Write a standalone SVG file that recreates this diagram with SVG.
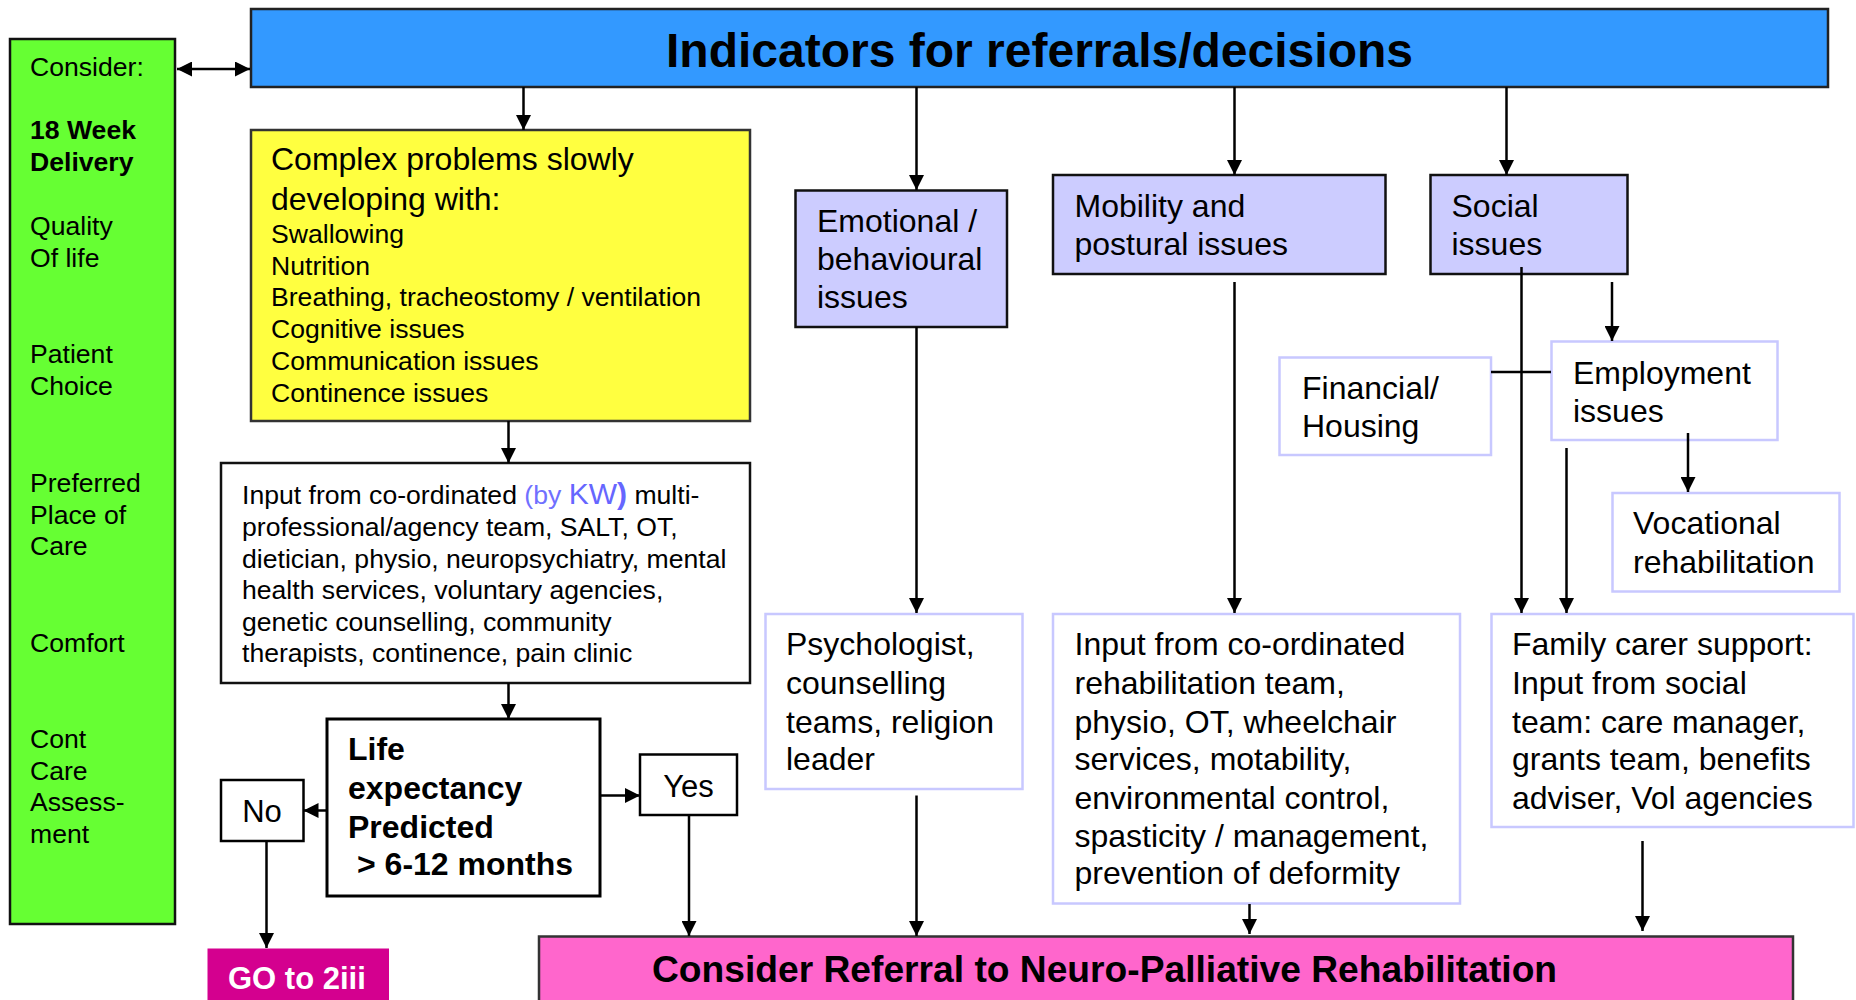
<svg xmlns="http://www.w3.org/2000/svg" width="1856" height="1000" viewBox="0 0 1856 1000">
<defs>
<marker id="ah" viewBox="0 0 10 10" refX="10" refY="5" markerWidth="15" markerHeight="15" markerUnits="userSpaceOnUse" orient="auto-start-reverse">
<path d="M0,0 L10,5 L0,10 z" fill="#000"/>
</marker>
<style>
text{font-family:"Liberation Sans",Arial,sans-serif;fill:#000}
.c{stroke:#000;stroke-width:2.5;fill:none}
.a{marker-end:url(#ah)}
.t26{font-size:26.6px}
.t31{font-size:31px}
.t32{font-size:32px}
.b{font-weight:bold}
.lav{fill:#ccccff;stroke:#111;stroke-width:2.5}
.wl{fill:#fff;stroke:#c8c8ff;stroke-width:2.5}
</style>
</defs>
<rect width="1856" height="1000" fill="#fff"/>

<g id="consider">
<rect x="10" y="39" width="165" height="885" fill="#66ff33" stroke="#111" stroke-width="2.5"/>
<text class="t26" x="30" y="76">Consider:</text>
<text class="t26 b" x="30" y="139">18 Week</text>
<text class="t26 b" x="30" y="171">Delivery</text>
<text class="t26" x="30" y="235">Quality</text>
<text class="t26" x="30" y="267">Of life</text>
<text class="t26" x="30" y="363">Patient</text>
<text class="t26" x="30" y="395">Choice</text>
<text class="t26" x="30" y="492">Preferred</text>
<text class="t26" x="30" y="524">Place of</text>
<text class="t26" x="30" y="555">Care</text>
<text class="t26" x="30" y="652">Comfort</text>
<text class="t26" x="30" y="748">Cont</text>
<text class="t26" x="30" y="780">Care</text>
<text class="t26" x="30" y="811">Assess-</text>
<text class="t26" x="30" y="843">ment</text>
</g>

<g id="indicators">
<rect x="251" y="9" width="1577" height="78" fill="#3399ff" stroke="#222" stroke-width="2.5"/>
<text x="1039.5" y="67" text-anchor="middle" class="b" font-size="48">Indicators for referrals/decisions</text>
</g>

<g id="complex">
<rect x="251" y="130" width="499" height="291" fill="#ffff40" stroke="#333" stroke-width="2.5"/>
<text x="271" y="170" font-size="32">Complex problems slowly</text>
<text x="271" y="210" font-size="32">developing with:</text>
<text class="t26" x="271" y="243">Swallowing</text>
<text class="t26" x="271" y="275">Nutrition</text>
<text class="t26" x="271" y="306">Breathing, tracheostomy / ventilation</text>
<text class="t26" x="271" y="338">Cognitive issues</text>
<text class="t26" x="271" y="370">Communication issues</text>
<text class="t26" x="271" y="402">Continence issues</text>
</g>

<g id="input-team">
<rect x="221" y="463" width="529" height="220" fill="#fff" stroke="#111" stroke-width="2.5"/>
<text class="t26" x="242" y="504">Input from co-ordinated <tspan fill="#7070ff">(by </tspan><tspan fill="#6666ff" font-size="30">KW</tspan><tspan fill="#6666ff" font-size="30" font-weight="bold">)</tspan> multi-</text>
<text class="t26" x="242" y="536">professional/agency team, SALT, OT,</text>
<text class="t26" x="242" y="567.5">dietician, physio, neuropsychiatry, mental</text>
<text class="t26" x="242" y="599">health services, voluntary agencies,</text>
<text class="t26" x="242" y="630.5">genetic counselling, community</text>
<text class="t26" x="242" y="662">therapists, continence, pain clinic</text>
</g>

<g id="life">
<rect x="327" y="719" width="273" height="177" fill="#fff" stroke="#000" stroke-width="3"/>
<text class="t32 b" x="348" y="760">Life</text>
<text class="t32 b" x="348" y="799">expectancy</text>
<text class="t32 b" x="348" y="837.5">Predicted</text>
<text class="t32 b" x="357" y="875">&gt; 6-12 months</text>
</g>

<g id="no">
<rect x="221" y="780" width="82.5" height="61" fill="#fff" stroke="#000" stroke-width="2.5"/>
<text class="t31" x="262" y="822" text-anchor="middle">No</text>
</g>

<g id="yes">
<rect x="640" y="754.5" width="97" height="60.5" fill="#fff" stroke="#000" stroke-width="2.5"/>
<text class="t31" x="688.5" y="797" text-anchor="middle">Yes</text>
</g>

<g id="goto">
<rect x="207.5" y="948.5" width="181.5" height="60" fill="#d4008f"/>
<text class="b" x="228" y="989" font-size="31" style="fill:#fff">GO to 2iii</text>
</g>

<g id="referral">
<rect x="539" y="936.5" width="1254" height="80" fill="#ff66cc" stroke="#333" stroke-width="2.5"/>
<text class="b" x="652" y="982" font-size="37.2">Consider Referral to Neuro-Palliative Rehabilitation</text>
</g>

<g id="emotional">
<rect x="795.5" y="190.5" width="211.5" height="136.5" class="lav"/>
<text class="t32" x="817" y="231.5">Emotional /</text>
<text class="t32" x="817" y="270">behavioural</text>
<text class="t32" x="817" y="308">issues</text>
</g>

<g id="mobility">
<rect x="1053" y="175" width="332.5" height="99" class="lav"/>
<text class="t32" x="1074.5" y="216.5">Mobility and</text>
<text class="t32" x="1074.5" y="255">postural issues</text>
</g>

<g id="social">
<rect x="1430.5" y="175" width="197" height="99" class="lav"/>
<text class="t32" x="1451.5" y="216.5">Social</text>
<text class="t32" x="1451.5" y="255">issues</text>
</g>

<g id="financial">
<rect x="1279.5" y="357.5" width="211.5" height="97.5" class="wl"/>
<text class="t32" x="1302" y="398.5">Financial/</text>
<text class="t32" x="1302" y="437">Housing</text>
</g>

<g id="employment">
<rect x="1551.5" y="341.5" width="226" height="98.5" class="wl"/>
<text class="t32" x="1573" y="383.5">Employment</text>
<text class="t32" x="1573" y="422">issues</text>
</g>

<g id="vocational">
<rect x="1612.5" y="493" width="227" height="98.5" class="wl"/>
<text class="t32" x="1633" y="534">Vocational</text>
<text class="t32" x="1633" y="573">rehabilitation</text>
</g>

<g id="psychologist">
<rect x="765.5" y="614" width="257" height="175" class="wl"/>
<text class="t32" x="786" y="655">Psychologist,</text>
<text class="t32" x="786" y="694">counselling</text>
<text class="t32" x="786" y="732.5">teams, religion</text>
<text class="t32" x="786" y="770">leader</text>
</g>

<g id="rehab-team">
<rect x="1053" y="614" width="407" height="289.5" class="wl"/>
<text class="t32" x="1074.5" y="655">Input from co-ordinated</text>
<text class="t32" x="1074.5" y="694">rehabilitation team,</text>
<text class="t32" x="1074.5" y="732.5">physio, OT, wheelchair</text>
<text class="t32" x="1074.5" y="770">services, motability,</text>
<text class="t32" x="1074.5" y="808.5">environmental control,</text>
<text class="t32" x="1074.5" y="846.5">spasticity / management,</text>
<text class="t32" x="1074.5" y="884">prevention of deformity</text>
</g>

<g id="family">
<rect x="1491.5" y="614" width="362" height="213" class="wl"/>
<text class="t32" x="1512" y="655">Family carer support:</text>
<text class="t32" x="1512" y="694">Input from social</text>
<text class="t32" x="1512" y="732.5">team: care manager,</text>
<text class="t32" x="1512" y="770">grants team, benefits</text>
<text class="t32" x="1512" y="808.5">adviser, Vol agencies</text>
</g>

<g id="connectors">
<line class="c" x1="177" y1="69" x2="250" y2="69" stroke-width="3" marker-start="url(#ah)" marker-end="url(#ah)"/>
<line class="c a" x1="523.5" y1="87" x2="523.5" y2="130"/>
<line class="c a" x1="508.5" y1="421" x2="508.5" y2="463"/>
<line class="c a" x1="508.5" y1="683" x2="508.5" y2="719"/>
<line class="c a" x1="327" y1="810.5" x2="303.5" y2="810.5"/>
<line class="c a" x1="600" y1="795.5" x2="640" y2="795.5"/>
<line class="c a" x1="266.5" y1="841" x2="266.5" y2="948"/>
<line class="c a" x1="689" y1="815" x2="689" y2="936"/>
<line class="c a" x1="916.5" y1="87" x2="916.5" y2="190"/>
<line class="c a" x1="1234.5" y1="87" x2="1234.5" y2="175"/>
<line class="c a" x1="1506.5" y1="87" x2="1506.5" y2="175"/>
<line class="c a" x1="916.5" y1="327" x2="916.5" y2="613"/>
<line class="c a" x1="916.5" y1="795.5" x2="916.5" y2="936"/>
<line class="c a" x1="1234.5" y1="282" x2="1234.5" y2="613"/>
<line class="c a" x1="1249.5" y1="904" x2="1249.5" y2="934"/>
<line class="c a" x1="1521.5" y1="267" x2="1521.5" y2="613"/>
<line class="c a" x1="1612" y1="282" x2="1612" y2="341"/>
<line class="c" x1="1491" y1="372" x2="1551" y2="372" stroke-width="3"/>
<line class="c a" x1="1566.5" y1="448" x2="1566.5" y2="613"/>
<line class="c a" x1="1688" y1="433" x2="1688" y2="492"/>
<line class="c a" x1="1642.5" y1="841" x2="1642.5" y2="931"/>
</g>
</svg>
